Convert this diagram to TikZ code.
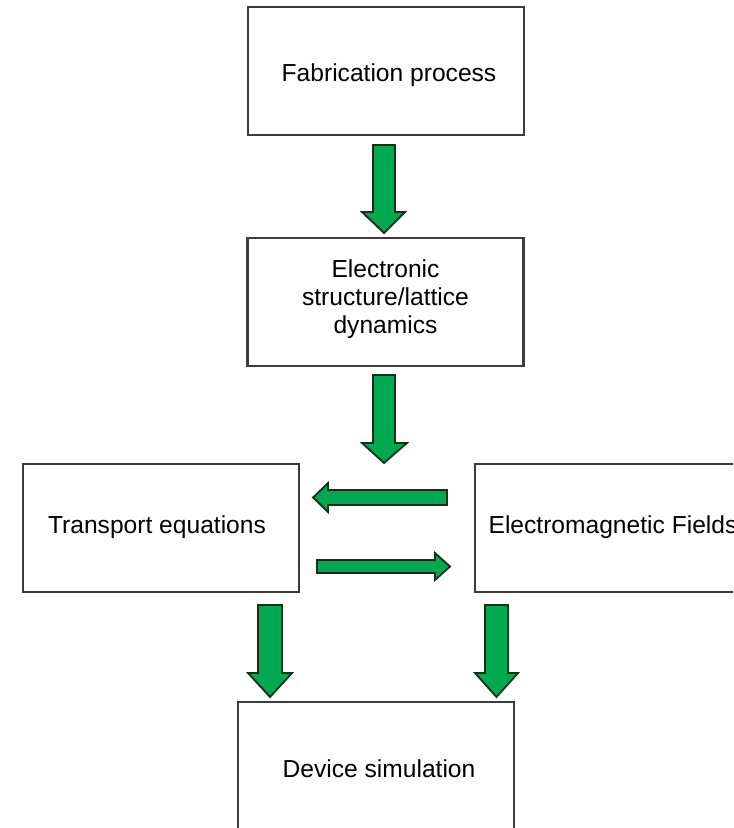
\documentclass[tikz,border=0pt]{standalone}
\usepackage{fontspec}
\setmainfont{Liberation Sans}
\begin{document}
\begin{tikzpicture}[x=0.5pt,y=-0.5pt,
  box/.style={draw=boxedge, line width=1.1pt, fill=white, rectangle, inner sep=0pt, outer sep=0pt,
    minimum width=138pt, minimum height=64pt},
  txt/.style={align=center, inner sep=0pt, font=\fontsize{12.3}{14}\selectfont},
  fatarrow/.style={fill=arrowgreen, draw=arrowedge, line width=0.9pt, line join=miter}]
\definecolor{boxedge}{RGB}{60,60,60}
\definecolor{arrowgreen}{RGB}{0,168,80}
\definecolor{arrowedge}{RGB}{25,45,25}
\useasboundingbox (0,0) rectangle (733,828);
\clip (0,0) rectangle (733,828);
\fill[white] (0,0) rectangle (733,828);
% boxes
\node[box] (fab) at (386,71) {};
\node[box] (elec) at (385.5,302) {};
\node[box] (trans) at (161,528) {};
\node[box] (em) at (613,528) {};
\node[box] (dev) at (376,766) {};
% texts
\node[txt] (tfab) at (389,75) {Fabrication process};
\node[txt] (telec) at (385.5,299) {Electronic\\structure/lattice\\dynamics};
\node[txt] (ttrans) at (157,527) {Transport equations};
\node[txt] (tem) at (613,527) {Electromagnetic Fields};
\node[txt] (tdev) at (379,769) {Device simulation};
% fat arrows
\draw[fatarrow] (373,145)--(395,145)--(395,212)--(405,212)--(384,233)--(362,212)--(373,212)--cycle;
\draw[fatarrow] (373,375)--(395,375)--(395,443)--(407,443)--(384,463)--(362,443)--(373,443)--cycle;
\draw[fatarrow] (447,490)--(447,505)--(328,505)--(328,512)--(313,497.5)--(328,483)--(328,490)--cycle;
\draw[fatarrow] (317,560)--(317,573)--(435,573)--(435,580)--(450,566.5)--(435,553)--(435,560)--cycle;
\draw[fatarrow] (258,605)--(282,605)--(282,673)--(292,673)--(270,697)--(248,673)--(258,673)--cycle;
\draw[fatarrow] (485,605)--(508,605)--(508,673)--(518,673)--(496.5,697)--(475,673)--(485,673)--cycle;
\end{tikzpicture}
\end{document}
